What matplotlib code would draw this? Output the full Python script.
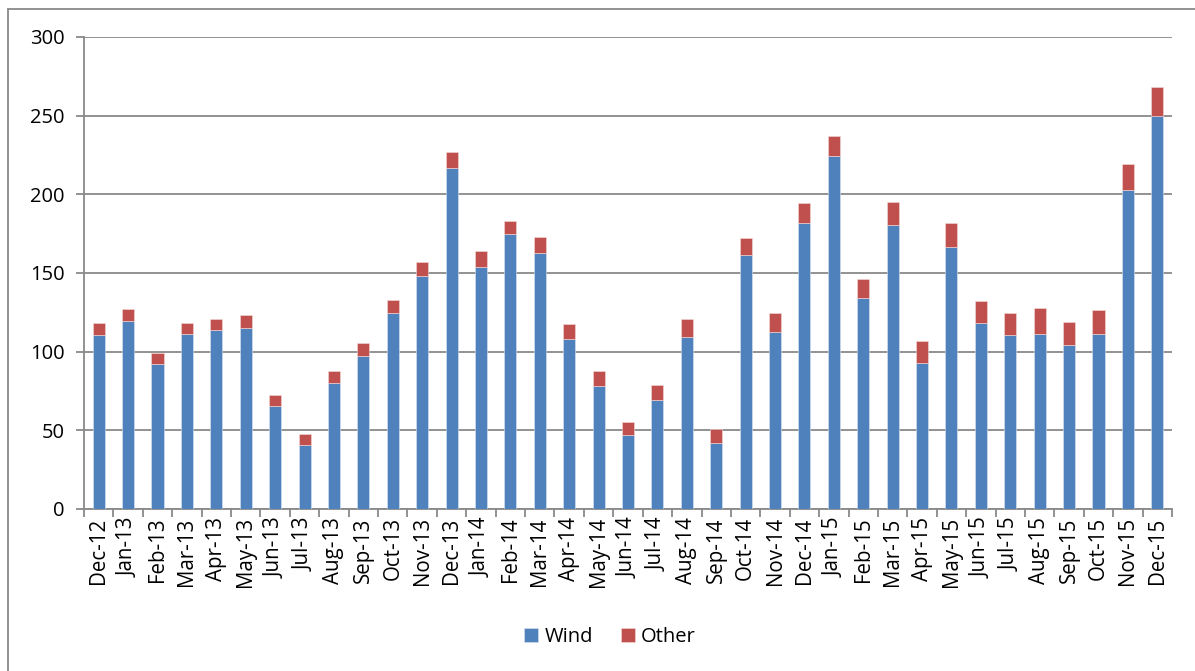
import numpy as np
import matplotlib.pyplot as plt
from matplotlib.patches import Rectangle

months = ['Dec-12', 'Jan-13', 'Feb-13', 'Mar-13', 'Apr-13', 'May-13', 'Jun-13',
          'Jul-13', 'Aug-13', 'Sep-13', 'Oct-13', 'Nov-13', 'Dec-13', 'Jan-14',
          'Feb-14', 'Mar-14', 'Apr-14', 'May-14', 'Jun-14', 'Jul-14', 'Aug-14',
          'Sep-14', 'Oct-14', 'Nov-14', 'Dec-14', 'Jan-15', 'Feb-15', 'Mar-15',
          'Apr-15', 'May-15', 'Jun-15', 'Jul-15', 'Aug-15', 'Sep-15', 'Oct-15',
          'Nov-15', 'Dec-15']

wind = [110.5, 119.5, 92, 111, 113.5, 115, 65.5, 40.5, 80, 97.5,
        124.5, 148, 217, 154, 174.5, 163, 108, 78, 47, 69,
        109.5, 42, 161.5, 112.5, 182, 224.5, 134, 180.5, 92.5, 166.5,
        118, 110.5, 111.5, 104, 111.5, 203, 250]
other = [7.5, 7.5, 7, 7, 7.5, 8, 6.7, 7.4, 8, 7.8,
         8.5, 9, 10, 10, 8.5, 10, 9.5, 10, 8.5, 10,
         11, 9, 11, 12, 12.7, 12.7, 12, 14.5, 14, 15,
         14, 13.8, 16, 15, 15, 16, 18.5]

plt.rcParams['font.family'] = ['Open Sans', 'DejaVu Sans']

fig = plt.figure(figsize=(11.95, 6.71), dpi=100)
ax = fig.add_axes([84 / 1195, 162 / 671, 1088 / 1195, 472 / 671])

x = np.arange(len(wind))
ax.bar(x, wind, width=0.41, color='#4F81BD', edgecolor='#dce6f2', linewidth=0.4,
       label='Wind', zorder=3)
ax.bar(x, other, width=0.41, bottom=wind, color='#C0504D', edgecolor='#f2dcdb',
       linewidth=0.4, label='Other', zorder=3)

ax.set_xlim(-0.5, len(wind) - 0.5)
ax.set_ylim(0, 300)
ax.set_yticks(range(0, 301, 50))
ax.yaxis.grid(True, color='#898989', linewidth=1.3, zorder=0)

ax.set_xticks(x)
ax.set_xticklabels(months, rotation=90, fontsize=14.8)
ax.set_xticks(np.arange(-0.5, len(wind), 1), minor=True)
ax.tick_params(axis='x', which='major', length=0, pad=6)
ax.tick_params(axis='x', which='minor', length=6, color='#898989', width=1.3)
ax.tick_params(axis='y', length=6, color='#898989', width=1.3, labelsize=14.5, pad=8)

for side in ['top', 'right']:
    ax.spines[side].set_visible(False)
for side in ['left', 'bottom']:
    ax.spines[side].set_color('#898989')
    ax.spines[side].set_linewidth(1.3)

ax.legend(loc='center', bbox_to_anchor=(610 / 1195, 1 - 637 / 671),
          bbox_transform=fig.transFigure, ncol=2, frameon=False, fontsize=14.5,
          handlelength=0.7, handleheight=0.7, handletextpad=0.3, columnspacing=1.4)

# outer chart border (only left/top visible in the original crop)
fig.patches.append(Rectangle((8 / 1195, -0.1), 1.2, 1 - 9 / 671 + 0.1,
                             transform=fig.transFigure, fill=False,
                             edgecolor='#898989', linewidth=1.3))

fig.savefig('out.png', dpi=100)
